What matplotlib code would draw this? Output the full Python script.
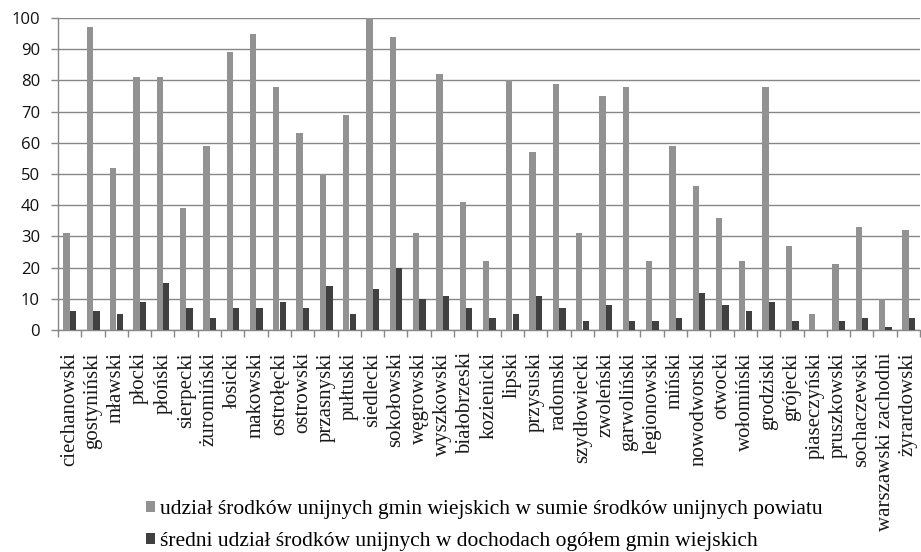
import matplotlib
matplotlib.use("Agg")
import matplotlib.pyplot as plt
import numpy as np
from matplotlib.patches import Patch

categories = ["ciechanowski", "gostyniński", "mławski", "płocki", "płoński", "sierpecki",
              "żuromiński", "łosicki", "makowski", "ostrołęcki", "ostrowski", "przasnyski",
              "pułtuski", "siedlecki", "sokołowski", "węgrowski", "wyszkowski", "białobrzeski",
              "kozienicki", "lipski", "przysuski", "radomski", "szydłowiecki", "zwoleński",
              "garwoliński", "legionowski", "miński", "nowodworski", "otwocki", "wołomiński",
              "grodziski", "grójecki", "piaseczyński", "pruszkowski", "sochaczewski",
              "warszawski zachodni", "żyrardowski"]
share_powiat = [31, 97, 52, 81, 81, 39, 59, 89, 95, 78, 63, 50, 69, 100, 94, 31, 82, 41,
                22, 80, 57, 79, 31, 75, 78, 22, 59, 46, 36, 22, 78, 27, 5, 21, 33, 10, 32]
share_income = [6, 6, 5, 9, 15, 7, 4, 7, 7, 9, 7, 14, 5, 13, 20, 10, 11, 7,
                4, 5, 11, 7, 3, 8, 3, 3, 4, 12, 8, 6, 9, 3, 0, 3, 4, 1, 4]
legend_labels = ["udział środków unijnych gmin wiejskich w sumie środków unijnych powiatu",
                 "średni udział środków unijnych w dochodach ogółem gmin wiejskich"]
yticks = list(range(0, 101, 10))

c_light = "#929292"
c_dark = "#404040"
c_grid = "#878787"

fig = plt.figure(figsize=(9.21, 5.52), dpi=100)
ax = fig.add_axes([58/921, 1-330/552, 1-58/921 - 0.001, (330-18)/552])

x = np.arange(len(categories))
w = 0.27
ax.bar(x - 0.13, share_powiat, width=w, color=c_light, zorder=3)
ax.bar(x + 0.15, share_income, width=w, color=c_dark, zorder=3)

ax.set_xlim(-0.5, len(categories) - 0.5)
ax.set_ylim(0, 100)
ax.set_yticks(yticks)
ax.set_yticklabels([str(v) for v in yticks], fontfamily="Open Sans", fontsize=12, color="#111111")
ax.yaxis.grid(True, color=c_grid, linewidth=1.0, zorder=0)
ax.tick_params(axis="y", length=5, color=c_grid, width=1.0, pad=8)

ax.set_xticks(x)
ax.set_xticklabels(categories, rotation=90, fontfamily="Liberation Serif", fontsize=15, color="#1a1a1a")
ax.set_xticks(np.arange(-0.5, len(categories) + 0.5, 1), minor=True)
ax.tick_params(axis="x", which="major", length=0, pad=16)
ax.tick_params(axis="x", which="minor", length=5, color=c_grid, width=1.0)

for s in ["top", "right"]:
    ax.spines[s].set_visible(False)
for s in ["left", "bottom"]:
    ax.spines[s].set_color(c_grid)
    ax.spines[s].set_linewidth(1.0)

handles = [Patch(facecolor=c_light, edgecolor="none"), Patch(facecolor=c_dark, edgecolor="none")]
fig.legend(handles, legend_labels, loc="upper left", bbox_to_anchor=(146/921, 1-500/552),
           frameon=False, prop={"family": "Liberation Serif", "size": 15.5},
           handlelength=0.42, handleheight=0.42, handletextpad=0.25, labelspacing=0.62,
           borderpad=0, borderaxespad=0)

fig.savefig("out.png", dpi=100)
